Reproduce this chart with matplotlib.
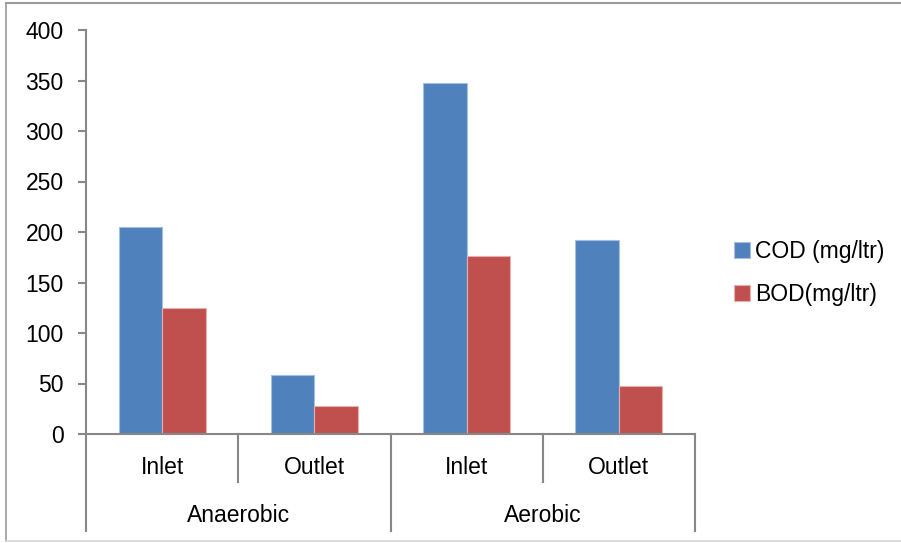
import numpy as np
import matplotlib
matplotlib.use("Agg")
import matplotlib.pyplot as plt
from matplotlib.lines import Line2D

plt.rcParams['font.family'] = ['Liberation Sans', 'DejaVu Sans']

# data
groups = ["Anaerobic", "Aerobic"]
stages = ["Inlet", "Outlet", "Inlet", "Outlet"]
cod = [205, 58, 348, 192]
bod = [125, 28, 176, 48]
series_names = ["COD (mg/ltr)", "BOD(mg/ltr)"]
yticks = [0, 50, 100, 150, 200, 250, 300, 350, 400]

W, H = 901, 543
fig = plt.figure(figsize=(W / 100, H / 100), dpi=100)

axis_grey = "#878787"
fs = 16.5

ax = fig.add_axes([86 / W, (H - 434) / H, (695 - 86) / W, 404 / H])

x = np.arange(len(stages)) + 0.5
bw = 0.286
b1 = ax.bar(x - bw / 2, cod, bw, color="#4F81BD", edgecolor="#A7BFDE", linewidth=0.8,
            label=series_names[0])
b2 = ax.bar(x + bw / 2, bod, bw, color="#C0504D", edgecolor="#E6B0AE", linewidth=0.8,
            label=series_names[1])

ax.set_xlim(0, len(stages))
ax.set_ylim(0, 400)
ax.set_yticks(yticks)
ax.set_xticks([])
for s in ["top", "right"]:
    ax.spines[s].set_visible(False)
for s in ["left", "bottom"]:
    ax.spines[s].set_color(axis_grey)
    ax.spines[s].set_linewidth(1.5)
ax.tick_params(axis="y", length=6, width=1.5, color=axis_grey, pad=10,
               labelsize=fs, labelcolor="black")

# two-level category axis
trans = ax.get_xaxis_transform()
px = 1 / 404  # one pixel in axes fraction (vertical)
for i, name in enumerate(stages):
    ax.text(x[i], -40 * px, name, transform=trans, ha="center", va="baseline", fontsize=fs)
for j, name in enumerate(groups):
    ax.text(2 * j + 1, -88 * px, name, transform=trans, ha="center", va="baseline", fontsize=fs)
for xb in [1, 3]:
    ax.add_line(Line2D([xb, xb], [0, -48 * px], transform=trans, color=axis_grey,
                       linewidth=1.5, clip_on=False))
for xb in [0, 2, 4]:
    ax.add_line(Line2D([xb, xb], [0, -97 * px], transform=trans, color=axis_grey,
                       linewidth=1.5, clip_on=False))

fig.legend(handles=[b1, b2], loc="center left", bbox_to_anchor=(734 / W, 1 - 273 / H),
           frameon=False, fontsize=fs, handlelength=0.68, handleheight=0.68,
           handletextpad=0.25, labelspacing=0.85, borderpad=0, borderaxespad=0)

# chart-area border (right side falls off the picture)
fig.add_artist(Line2D([6 / W, 6 / W], [1 - 3 / H, 1 - 541 / H], transform=fig.transFigure,
                      color="#9a9a9a", linewidth=1.2))
fig.add_artist(Line2D([6 / W, 1], [1 - 3 / H, 1 - 3 / H], transform=fig.transFigure,
                      color="#9a9a9a", linewidth=1.5))
fig.add_artist(Line2D([6 / W, 1], [1 - 541 / H, 1 - 541 / H], transform=fig.transFigure,
                      color="#d4d4d4", linewidth=1.2))

fig.savefig("out.png", dpi=100)
